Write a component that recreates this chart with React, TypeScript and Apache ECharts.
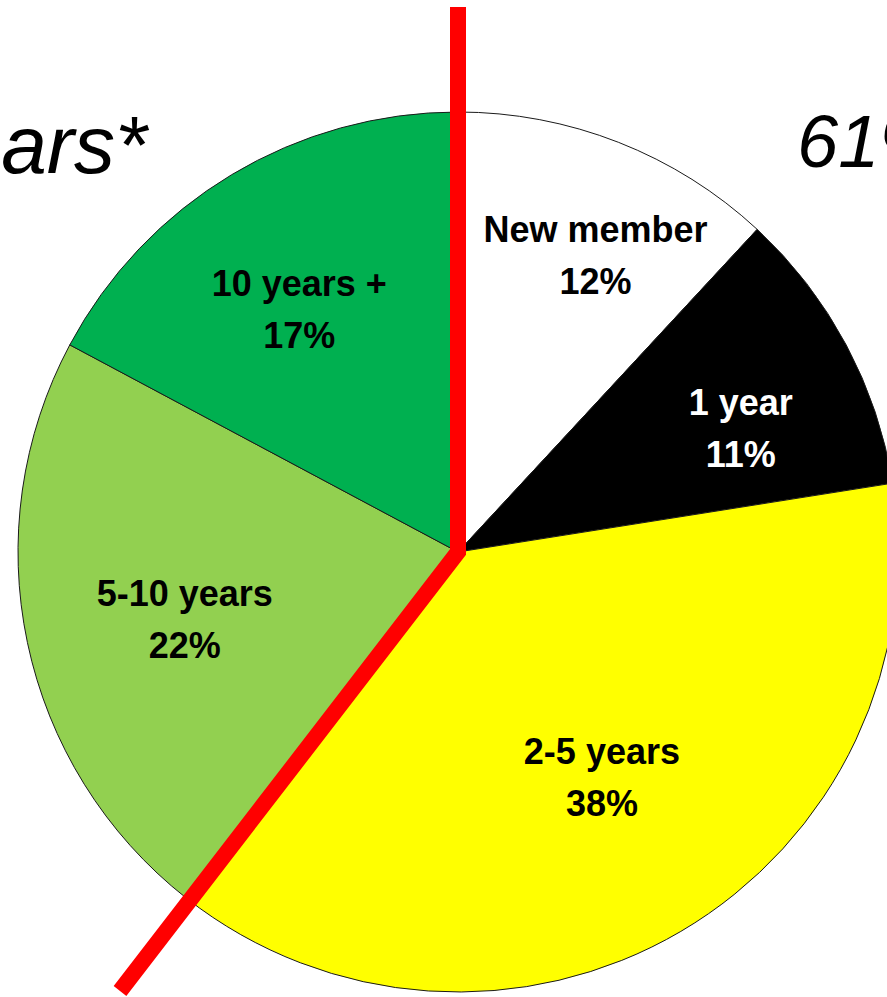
import React, { useEffect, useRef } from "react";
import * as echarts from "echarts";

// ---- data ----
const CATEGORIES = ["New member", "1 year", "2-5 years", "5-10 years", "10 years +"];
const SHARES = [11.9, 10.6, 38.1, 22.2, 17.2];
const COLORS = ["#FFFFFF", "#000000", "#FFFF00", "#92D050", "#00B050"];
const LABEL_COLORS = ["#000000", "#FFFFFF", "#000000", "#000000", "#000000"];
const LEFT_TEXT = "ars*";
const RIGHT_TEXT = "61%";

// label nudges (px) from the default inside position
const LABEL_DX = [56, 86, 31, -55, -44];
const LABEL_DY = [-89, -19, 33, 22, -51];

export default function App() {
  const ref = useRef<HTMLDivElement>(null);

  useEffect(() => {
    if (!ref.current) return;
    const chart = echarts.init(ref.current, null, { renderer: "svg" });
    chart.setOption({
      animation: false,
      backgroundColor: "#FFFFFF",
      series: [
        {
          type: "pie",
          center: [458, 552],
          radius: [0, 440],
          startAngle: 90,
          clockwise: true,
          percentPrecision: 0,
          avoidLabelOverlap: false,
          minShowLabelAngle: 0,
          emphasis: { disabled: true },
          itemStyle: { borderColor: "#1a1a1a", borderWidth: 1 },
          label: {
            show: true,
            position: "inside",
            formatter: "{b}\n{d}%",
            fontFamily: "Liberation Sans",
            fontWeight: "bold",
            fontSize: 36,
            lineHeight: 52,
            align: "center",
          },
          labelLine: { show: false },
          labelLayout: (params: any) => {
            const r = params.labelRect;
            const i = params.dataIndex;
            return {
              x: r.x + r.width / 2 + LABEL_DX[i],
              y: r.y + r.height / 2 + LABEL_DY[i],
              align: "center",
              verticalAlign: "middle",
            };
          },
          data: CATEGORIES.map((name, i) => ({
            name,
            value: SHARES[i],
            itemStyle: { color: COLORS[i] },
            label: { color: LABEL_COLORS[i] },
          })),
        },
      ],
      graphic: [
        {
          type: "polyline",
          shape: { points: [[458, 7], [458, 552], [120, 991]] },
          style: { stroke: "#FF0000", lineWidth: 16, fill: null, lineJoin: "miter", lineCap: "butt" },
          z: 100,
        },
        {
          type: "text",
          x: 147,
          y: 144,
          style: {
            text: LEFT_TEXT,
            fontFamily: "Liberation Sans",
            fontStyle: "italic",
            fontSize: 82,
            fill: "#000",
            align: "right",
            verticalAlign: "middle",
          },
          z: 100,
        },
        {
          type: "text",
          x: 797,
          y: 141,
          style: {
            text: RIGHT_TEXT,
            fontFamily: "Liberation Sans",
            fontStyle: "italic",
            fontSize: 74,
            fill: "#000",
            align: "left",
            verticalAlign: "middle",
          },
          z: 100,
        },
      ],
    });
    return () => chart.dispose();
  }, []);

  return (
    <div
      ref={ref}
      style={{ position: "fixed", left: 0, top: 0, width: 887, height: 997 }}
    />
  );
}
